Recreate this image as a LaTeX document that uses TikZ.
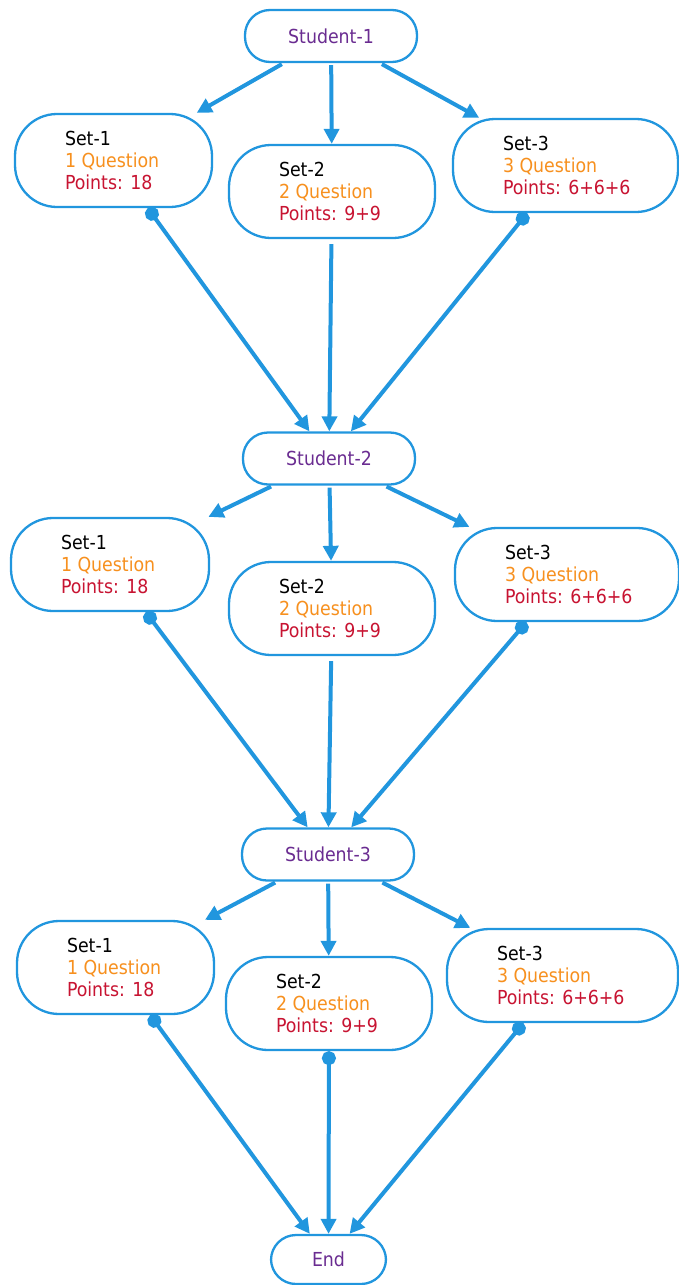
\documentclass[tikz,border=0pt]{standalone}
\usepackage{fontspec}
\setmainfont{DejaVu Sans Condensed}
\usetikzlibrary{arrows.meta}
\definecolor{lnblue}{RGB}{33,150,222}
\definecolor{stpurple}{RGB}{106,44,145}
\definecolor{qorange}{RGB}{247,144,30}
\definecolor{ptred}{RGB}{200,20,50}
\newcommand\setlines[4]{\makebox[#1][l]{\color{black}#2}\\\makebox[#1][l]{\color{qorange}#3}\\\makebox[#1][l]{\color{ptred}#4}}
\begin{document}
\begin{tikzpicture}[x=1pt,y=-1pt,
  basefont/.style={font=\fontsize{19.3}{22}\selectfont},
  stud/.style={basefont, draw=lnblue, line width=2.3pt, fill=white, rounded corners=25pt,
    minimum width=172pt, minimum height=52pt, inner sep=0pt, text=stpurple},
  setbox/.style={basefont, draw=lnblue, line width=2.3pt, fill=white, rounded corners=42pt,
    minimum height=93pt, inner xsep=50pt, inner ysep=0pt, align=left},
  conn/.style={draw=lnblue, line width=4pt, -{Triangle[length=15pt,width=15pt]},
    shorten <=2pt},
  dotconn/.style={draw=lnblue, line width=4pt,
    {Circle[length=14pt]}-{Triangle[length=15pt,width=15pt]}}
]
\useasboundingbox (0,0) rectangle (678,1285);

% row 1
\node[stud] (st1) at (331,36) {Student-1};
\node[setbox] (a1) at (113.5,160.5) {\setlines{97pt}{Set-1}{1 Question}{Points: 18}};
\node[setbox] (a2) at (332,191.5)   {\setlines{106pt}{Set-2}{2 Question}{Points: 9+9}};
\node[setbox] (a3) at (565.5,165.5) {\setlines{125pt}{Set-3}{3 Question}{Points: 6+6+6}};

% row 2
\node[stud] (st2) at (329,458.5) {Student-2};
\node[setbox] (b1) at (110,564.5) {\setlines{98pt}{Set-1}{1 Question}{Points: 18}};
\node[setbox] (b2) at (332,608.5) {\setlines{106pt}{Set-2}{2 Question}{Points: 9+9}};
\node[setbox] (b3) at (567,574.5) {\setlines{124pt}{Set-3}{3 Question}{Points: 6+6+6}};

% row 3
\node[stud] (st3) at (328,854.5) {Student-3};
\node[setbox] (c1) at (115.5,967.5) {\setlines{97pt}{Set-1}{1 Question}{Points: 18}};
\node[setbox] (c2) at (329,1003.5)  {\setlines{106pt}{Set-2}{2 Question}{Points: 9+9}};
\node[setbox] (c3) at (562.5,975.5) {\setlines{131pt}{Set-3}{3 Question}{Points: 6+6+6}};

\node[stud, minimum width=115pt, minimum height=49pt] (end) at (328.5,1259.5) {End};

% connectors
\draw[conn] (st1) -- (a1);
\draw[conn] (st1) -- (a2);
\draw[conn] (st1) -- (a3);
\draw[dotconn] (a1) -- (st2);
\draw[conn, shorten <=5pt] (a2) -- (st2);
\draw[dotconn] (a3) -- (st2);

\draw[conn] (st2) -- (b1);
\draw[conn] (st2) -- (b2);
\draw[conn] (st2) -- (b3);
\draw[dotconn] (b1) -- (st3);
\draw[conn, shorten <=5pt] (b2) -- (st3);
\draw[dotconn] (b3) -- (st3);

\draw[conn] (st3) -- (c1);
\draw[conn] (st3) -- (c2);
\draw[conn] (st3) -- (c3);
\draw[dotconn] (c1) -- (end);
\draw[dotconn] (c2) -- (end);
\draw[dotconn] (c3) -- (end);
\end{tikzpicture}
\end{document}
